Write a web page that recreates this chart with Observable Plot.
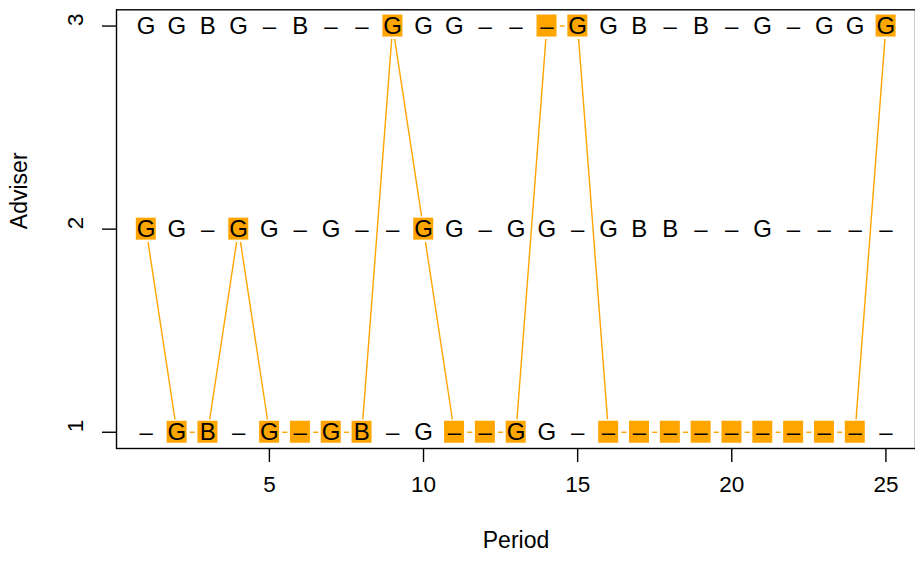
<!DOCTYPE html>
<html>
<head>
<meta charset="utf-8">
<script src="https://cdn.jsdelivr.net/npm/d3@7"></script>
<script src="https://cdn.jsdelivr.net/npm/@observablehq/plot@0.6"></script>
<style>
  html, body { margin: 0; padding: 0; background: #fff; }
  svg { display: block; }
</style>
</head>
<body>
<div id="chart"></div>
<script>
// ---- data ----
const periods = [1, 2, 3, 4, 5, 6, 7, 8, 9, 10, 11, 12, 13, 14, 15, 16, 17, 18, 19, 20, 21, 22, 23, 24, 25];
const advisers = [1, 2, 3];
const adviser1Labels = ["–","G","B","–","G","–","G","B","–","G","–","–","G","G","–","–","–","–","–","–","–","–","–","–","–"];
const adviser2Labels = ["G","G","–","G","G","–","G","–","–","G","G","–","G","G","–","G","B","B","–","–","G","–","–","–","–"];
const adviser3Labels = ["G","G","B","G","–","B","–","–","G","G","G","–","–","–","G","G","B","–","B","–","G","–","G","G","G"];
const chosenAdviser = [2,1,1,2,1,1,1,1,3,2,1,1,1,3,3,1,1,1,1,1,1,1,1,1,3];
const xTicks = [5, 10, 15, 20, 25];
const yTicks = [1, 2, 3];
const xTitle = "Period";
const yTitle = "Adviser";

// ---- build tables ----
const labelRows = {1: adviser1Labels, 2: adviser2Labels, 3: adviser3Labels};
const cells = [];
for (const a of advisers) {
  periods.forEach((p, i) => cells.push({period: p, adviser: a, label: labelRows[a][i], chosen: chosenAdviser[i] === a}));
}
const chosenCells = cells.filter(d => d.chosen);

// layout
const W = 915, H = 565;
const mL = 116, mR = 0, mT = 9.3, mB = 117;
const xDomain = [0.04, 25.96];
const yDomain = [0.92, 3.08];

// R's type="b" leaves a gap around each point: shorten segments (computed in pixels, inverted back to data)
const sx = d3.scaleLinear().domain(xDomain).range([mL, W - mR]);
const sy = d3.scaleLinear().domain(yDomain).range([H - mB, mT]);
const gap = 12.9;
const segs = [];
for (let i = 0; i < periods.length - 1; i++) {
  const x1 = sx(periods[i]), y1 = sy(chosenAdviser[i]);
  const x2 = sx(periods[i + 1]), y2 = sy(chosenAdviser[i + 1]);
  const len = Math.hypot(x2 - x1, y2 - y1);
  const ux = (x2 - x1) / len, uy = (y2 - y1) / len;
  segs.push({
    x1: sx.invert(x1 + ux * gap), y1: sy.invert(y1 + uy * gap),
    x2: sx.invert(x2 - ux * gap), y2: sy.invert(y2 - uy * gap)
  });
}

const boxSymbol = { draw(ctx) { ctx.rect(-10.3, -11.5, 20, 22); } };
const orange = "#FFA500";
const font = "'Liberation Sans', Arial, Helvetica, sans-serif";

const chart = Plot.plot({
  width: W,
  height: H,
  marginLeft: mL,
  marginRight: mR,
  marginTop: mT,
  marginBottom: mB,
  style: { fontFamily: font, fontSize: "24px", background: "#fff", color: "#000", overflow: "visible" },
  x: { domain: xDomain },
  y: { domain: yDomain },
  marks: [
    Plot.link(segs, { x1: "x1", y1: "y1", x2: "x2", y2: "y2", stroke: orange, strokeWidth: 1.4 }),
    Plot.dot(chosenCells, { x: "period", y: "adviser", symbol: boxSymbol, fill: orange, stroke: "none" }),
    Plot.text(cells, { x: "period", y: "adviser", text: "label", fontSize: 24, fill: "#000" }),
    Plot.frame({ stroke: "#000", strokeWidth: 1.4 }),
    Plot.axisX({ ticks: xTicks, tickSize: 14, tickFormat: () => "", label: null, strokeWidth: 1.4 }),
    Plot.axisY({ ticks: yTicks, tickSize: 14, tickFormat: () => "", label: null, strokeWidth: 1.4 }),
    Plot.text(xTicks, { x: d => d, text: d => String(d), frameAnchor: "bottom", dy: 43.7, fontSize: 22.5, fill: "#000" }),
    Plot.text(yTicks, { y: d => d, text: d => String(d), frameAnchor: "left", dx: -41.1, rotate: -90, fontSize: 22.5, fill: "#000" }),
    Plot.text([xTitle], { text: d => d, frameAnchor: "bottom", dy: 99.6, fontSize: 23, fill: "#000" }),
    Plot.text([yTitle], { text: d => d, frameAnchor: "left", dx: -96.8, rotate: -90, fontSize: 23, fill: "#000" })
  ]
});
document.getElementById("chart").appendChild(chart);
</script>
</body>
</html>
